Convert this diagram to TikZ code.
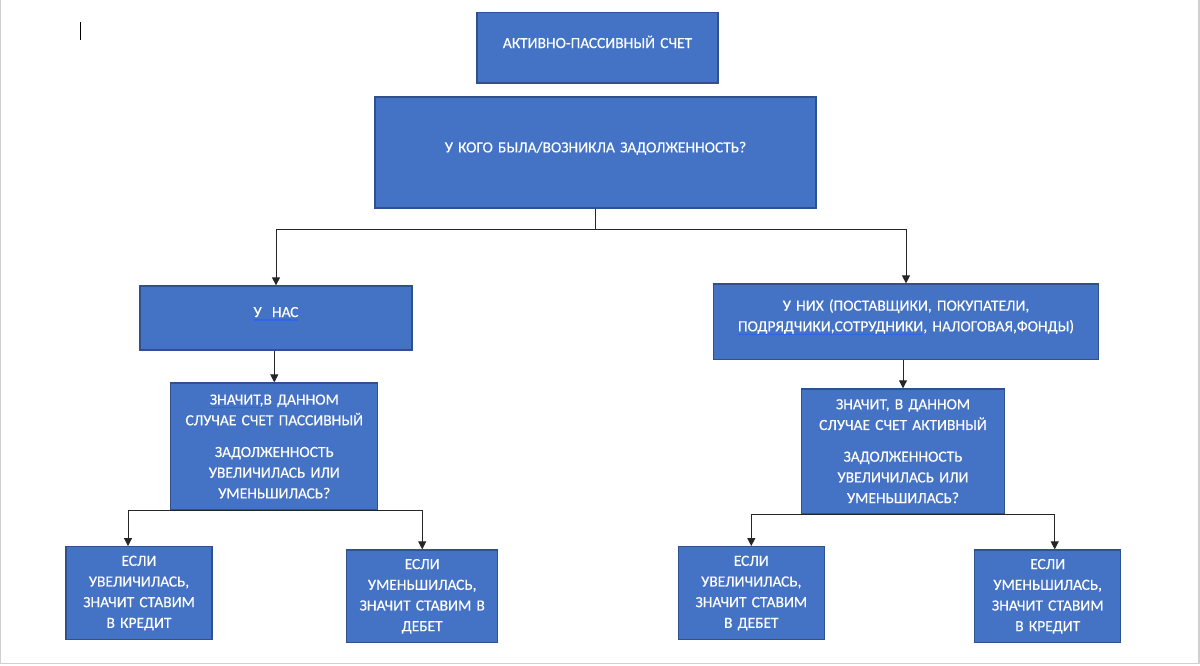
\documentclass[tikz,border=0pt]{standalone}
\usepackage{fontspec}
\setmainfont{Carlito}
\newfontfamily\boxfont{Carlito}[FakeBold=0.3]
\usepackage{calc}
\usepackage{tikz}
\usetikzlibrary{arrows.meta,positioning}

\definecolor{boxblue}{HTML}{4472C4}
\definecolor{boxedge}{HTML}{2F528F}
\definecolor{gramblue}{HTML}{2F66E8}
\definecolor{pageedge}{HTML}{D0D0D0}

\newcommand{\gram}[1]{\leavevmode\rlap{\color{gramblue}\rule[-3.5pt]{\widthof{#1}}{1.1pt}}#1}
\newcommand{\dip}[1]{\rule[-#1]{0pt}{#1}}

\begin{document}
\begin{tikzpicture}[x=1pt,y=-1pt]
				\tikzstyle{Box} 	= [draw=boxedge, line width=1.3pt, fill=boxblue, text=white, inner sep=0pt, align=center, font=\boxfont\fontsize{15.5}{20.7}\selectfont]
				\tikzstyle{Case}	= [minimum width=205pt, minimum height=126pt, text width=200pt]
				\tikzstyle{Leaf}	= [minimum width=146pt, minimum height=92.6pt, text width=142pt]
				\tikzstyle{Arr}		= [-{Triangle[length=8pt,width=8pt]}, line width=1pt, draw=black!85]
				\tikzstyle{Page}	= [draw=pageedge]
				
				\useasboundingbox (0,0) rectangle (1200,665);
				\draw [Page, line width=1.3pt] (0.7,0) -- (0.7,663.8);
				\draw [Page, line width=2.3pt] (1198.8,0) -- (1198.8,663.8);
				\draw [Page, line width=1.3pt] (0,663.8) -- (1200,663.8);
				\draw [line width=1.3pt] (80.5,21.5) -- (80.5,39.5);
				
				\node (title) at (597.5,47.8) [Box, minimum width=241pt, minimum height=70.5pt, text width=237pt] {АКТИВНО-ПАССИВНЫЙ СЧЕТ\dip{12pt}};
				\node (ask) at (595.5,152.5) [Box, minimum width=441pt, minimum height=111pt, text width=437pt] {У КОГО БЫЛА/ВОЗНИКЛА ЗАДОЛЖЕННОСТЬ?\dip{11pt}};
				
				\node (us) at (276,318) [Box, minimum width=272pt, minimum height=64pt, text width=268pt] {\gram{У\ \ НАС}\dip{12pt}};
				\node (them) at (906,321.8) [Box, minimum width=385pt, minimum height=75.5pt, text width=381pt] {У НИХ (ПОСТАВЩИКИ, ПОКУПАТЕЛИ,\\\gram{ПОДРЯДЧИКИ,СОТРУДНИКИ}, НАЛОГОВАЯ,ФОНДЫ)\dip{13pt}};
				
				\node (passive) at (274.3,446.5) [Box][Case, minimum width=207pt, minimum height=127pt] {\gram{ЗНАЧИТ,}В ДАННОМ\\СЛУЧАЕ СЧЕТ ПАССИВНЫЙ\\[11pt]ЗАДОЛЖЕННОСТЬ\\УВЕЛИЧИЛАСЬ ИЛИ\\УМЕНЬШИЛАСЬ?};
				\node (active) at (903,451.2) [Box][Case, minimum width=203pt, minimum height=124.5pt] {ЗНАЧИТ, В ДАННОМ\\СЛУЧАЕ СЧЕТ АКТИВНЫЙ\\[11pt]ЗАДОЛЖЕННОСТЬ\\УВЕЛИЧИЛАСЬ ИЛИ\\УМЕНЬШИЛАСЬ?};
				
				\node (usInc) at (139,593) [Box][Leaf] {ЕСЛИ\\УВЕЛИЧИЛАСЬ,\\ЗНАЧИТ СТАВИМ\\В КРЕДИТ};
				\node (usDec) at (422.2,596.3) [Box][Leaf, minimum width=151pt] {ЕСЛИ\\УМЕНЬШИЛАСЬ,\\ЗНАЧИТ СТАВИМ В\\ДЕБЕТ};
				\node (themInc) at (751.3,593) [Box][Leaf] {ЕСЛИ\\УВЕЛИЧИЛАСЬ,\\ЗНАЧИТ СТАВИМ\\В ДЕБЕТ};
				\node (themDec) at (1047.7,596.3) [Box][Leaf] {ЕСЛИ\\УМЕНЬШИЛАСЬ,\\ЗНАЧИТ СТАВИМ\\В КРЕДИТ};
				
				\draw [Arr] (ask.south) -- ++(0,21) -| (us.north);
				\draw [Arr] (ask.south) -- ++(0,21) -| (them.north);
				\draw [Arr] (passive.north |- us.south) -- (passive.north);
				\draw [Arr] (active.north |- them.south) -- (active.north);
				\draw [Arr] (passive.south) -| ([xshift=-11pt]usInc.north);
				\draw [Arr] (passive.south) -| (usDec.north);
				\draw [Arr] (active.south) -| (themInc.north);
				\draw [Arr] (active.south) -| ([xshift=7pt]themDec.north);
			\end{tikzpicture}
\end{document}
